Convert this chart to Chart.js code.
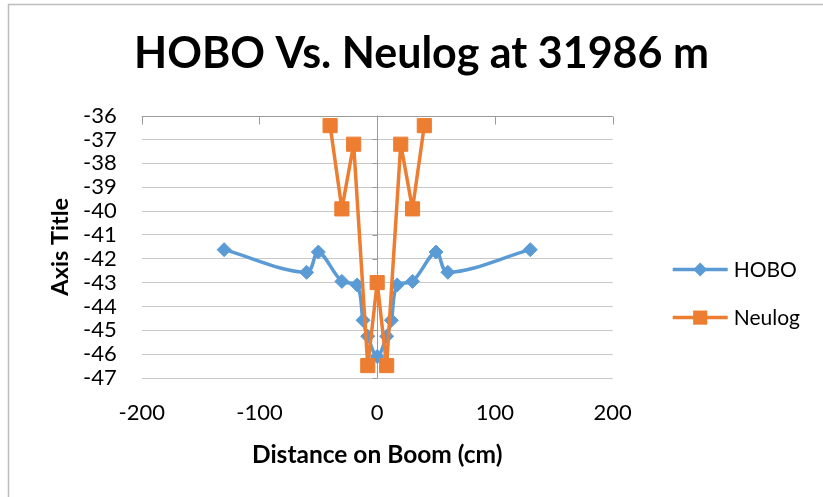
<!DOCTYPE html>
<html>
<head>
<meta charset="utf-8">
<script src="https://cdn.jsdelivr.net/npm/chart.js"></script>
<style>
  body { margin: 0; background: #fff; }
  #wrap { width: 823px; height: 497px; }
</style>
</head>
<body>
<div id="wrap"><canvas id="chart" width="823" height="497"></canvas></div>
<script>
// ─── Data ────────────────────────────────────────────────────────────────────
const chartTitle = "HOBO Vs. Neulog at 31986 m";
const xTitle = "Distance on Boom (cm)";
const yTitle = "Axis Title";
const seriesNames = ["HOBO", "Neulog"];

const hoboX = [-130, -60, -50, -30, -17, -12, -8, 0, 8, 12, 17, 30, 50, 60, 130];
const hoboY = [-41.62, -42.57, -41.72, -42.95, -43.1, -44.58, -45.25, -46.1, -45.25, -44.58, -43.1, -42.95, -41.72, -42.57, -41.62];

const neulogX = [-40, -30, -20, -8, 0, 8, 20, 30, 40];
const neulogY = [-36.42, -39.91, -37.2, -46.48, -43.0, -46.48, -37.2, -39.91, -36.42];

const xTicks = [-200, -100, 0, 100, 200];
const yTicks = [-47, -46, -45, -44, -43, -42, -41, -40, -39, -38, -37, -36];

// ─── Style ───────────────────────────────────────────────────────────────────
const FONT = "Lato, 'Open Sans', sans-serif";
const BLUE = "#5b9bd5";
const ORANGE = "#ed7d31";
const GRID = "#c8c8c8";
const AXIS = "#9a9a9a";

function toPoints(xs, ys) {
  return xs.map((x, i) => ({ x, y: ys[i] }));
}

// white background + chart frame (top and left edges are visible)
const framePlugin = {
  id: "frame",
  beforeDraw(chart) {
    const ctx = chart.ctx;
    ctx.save();
    ctx.fillStyle = "#fff";
    ctx.fillRect(0, 0, chart.width, chart.height);
    ctx.strokeStyle = "#bdbdbd";
    ctx.lineWidth = 1.5;
    ctx.strokeRect(8.5, 4.5, chart.width + 20, chart.height + 20);
    ctx.restore();
  }
};

// Excel-like axes: horizontal axis along the top, vertical axis crossing at x = 0
const axesPlugin = {
  id: "excelAxes",
  beforeDatasetsDraw(chart) {
    const { ctx, chartArea: a, scales } = chart;
    const x0 = Math.round(scales.x.getPixelForValue(0)) + 0.5;
    const top = Math.round(a.top) + 0.5;
    ctx.save();
    ctx.strokeStyle = AXIS;
    ctx.lineWidth = 1;
    ctx.beginPath();
    ctx.moveTo(a.left, top);
    ctx.lineTo(a.right, top);
    xTicks.forEach(v => {
      const px = Math.round(scales.x.getPixelForValue(v)) + 0.5;
      ctx.moveTo(px, top);
      ctx.lineTo(px, top + 8);
    });
    ctx.moveTo(x0, a.top);
    ctx.lineTo(x0, a.bottom);
    yTicks.forEach(v => {
      const py = Math.round(scales.y.getPixelForValue(v)) + 0.5;
      ctx.moveTo(x0 - 5, py);
      ctx.lineTo(x0, py);
    });
    ctx.stroke();
    ctx.restore();
  }
};

// legend: line + marker + name, placed to the right of the plot
const legendPlugin = {
  id: "sideLegend",
  afterDraw(chart) {
    const { ctx, chartArea: a } = chart;
    ctx.save();
    chart.data.datasets.forEach((ds, i) => {
      const y = a.top + 154 + i * 48;
      const x1 = a.right + 60, x2 = a.right + 115, xm = (x1 + x2) / 2;
      ctx.strokeStyle = ds.borderColor;
      ctx.lineWidth = ds.borderWidth;
      ctx.beginPath();
      ctx.moveTo(x1, y);
      ctx.lineTo(x2, y);
      ctx.stroke();
      ctx.fillStyle = ds.pointBackgroundColor;
      const r = ds.pointRadius;
      ctx.beginPath();
      if (ds.pointStyle === "rectRot") {
        ctx.moveTo(xm - r, y);
        ctx.lineTo(xm, y - r);
        ctx.lineTo(xm + r, y);
        ctx.lineTo(xm, y + r);
      } else {
        const s = r * Math.SQRT1_2;
        ctx.rect(xm - s, y - s, 2 * s, 2 * s);
      }
      ctx.closePath();
      ctx.fill();
      ctx.fillStyle = "#000";
      ctx.font = "21px " + FONT;
      ctx.textBaseline = "middle";
      ctx.textAlign = "left";
      ctx.fillText(ds.label, x2 + 6, y + 1);
    });
    ctx.restore();
  }
};

new Chart(document.getElementById("chart"), {
  type: "scatter",
  data: {
    datasets: [
      {
        label: seriesNames[0],
        data: toPoints(hoboX, hoboY),
        showLine: true,
        borderColor: BLUE,
        backgroundColor: BLUE,
        pointBackgroundColor: BLUE,
        pointBorderColor: BLUE,
        borderWidth: 3.5,
        pointStyle: "rectRot",
        pointRadius: 7,
        pointBorderWidth: 1,
        tension: 0.35,
        borderJoinStyle: "round",
        order: 1
      },
      {
        label: seriesNames[1],
        data: toPoints(neulogX, neulogY),
        showLine: true,
        borderColor: ORANGE,
        backgroundColor: ORANGE,
        pointBackgroundColor: ORANGE,
        pointBorderColor: ORANGE,
        borderWidth: 3.5,
        pointStyle: "rect",
        pointRadius: 10,
        pointBorderWidth: 1,
        tension: 0,
        borderJoinStyle: "round",
        order: 0
      }
    ]
  },
  options: {
    responsive: false,
    animation: false,
    layout: { padding: { left: 20, right: 0, top: 0, bottom: 0 } },
    plugins: {
      legend: { display: false },
      tooltip: { enabled: false },
      title: {
        display: true,
        text: chartTitle,
        color: "#000",
        font: { family: FONT, size: 43, weight: "bold" },
        padding: { top: 28, bottom: 36 }
      }
    },
    scales: {
      x: {
        type: "linear",
        position: "bottom",
        min: -200,
        max: 200,
        afterBuildTicks: s => { s.ticks = xTicks.map(v => ({ value: v })); },
        ticks: { color: "#000", font: { family: FONT, size: 22 }, padding: 22, autoSkip: false, maxRotation: 0 },
        grid: { display: false, drawTicks: false },
        border: { display: false },
        title: {
          display: true,
          text: xTitle,
          color: "#000",
          font: { family: FONT, size: 24.5, weight: "bold" },
          padding: { top: 0, bottom: 27 }
        },
        afterFit: s => { s.height = 119; }
      },
      y: {
        type: "linear",
        position: "left",
        min: -47,
        max: -36,
        afterBuildTicks: s => { s.ticks = yTicks.map(v => ({ value: v })); },
        ticks: { color: "#000", font: { family: FONT, size: 22 }, padding: 25, autoSkip: false },
        grid: {
          drawTicks: false,
          color: c => (c.tick && c.tick.value === -36 ? "rgba(0,0,0,0)" : GRID)
        },
        border: { display: false },
        title: {
          display: true,
          text: yTitle,
          color: "#000",
          font: { family: FONT, size: 23.5, weight: "bold" },
          padding: { top: 26, bottom: 0 }
        },
        afterFit: s => { s.width = 121.7; }
      },
      yPad: {
        axis: "y",
        position: "right",
        display: true,
        grid: { display: false, drawTicks: false },
        border: { display: false },
        ticks: { display: false },
        afterFit: s => { s.width = 210.3; }
      }
    }
  },
  plugins: [framePlugin, axesPlugin, legendPlugin]
});
</script>
</body>
</html>
